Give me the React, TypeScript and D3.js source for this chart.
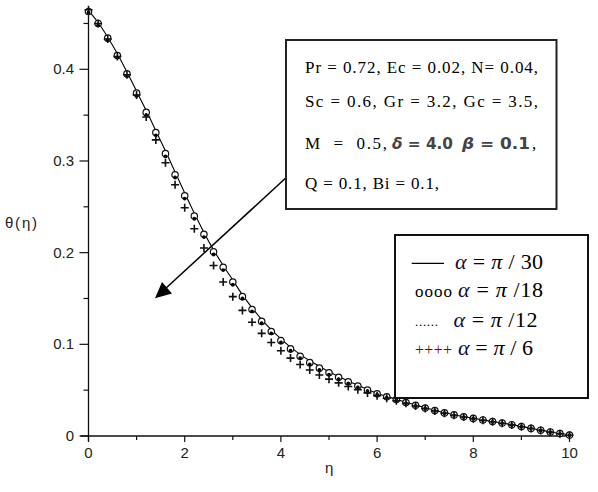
import React from "react";
import * as d3 from "d3";

const eta = [0, 0.2, 0.4, 0.6, 0.8, 1.0, 1.2, 1.4, 1.6, 1.8, 2.0, 2.2, 2.4, 2.6, 2.8, 3.0, 3.2, 3.4, 3.6, 3.8, 4.0, 4.2, 4.4, 4.6, 4.8, 5.0, 5.2, 5.4, 5.6, 5.8, 6.0, 6.2, 6.4, 6.6, 6.8, 7.0, 7.2, 7.4, 7.6, 7.8, 8.0, 8.2, 8.4, 8.6, 8.8, 9.0, 9.2, 9.4, 9.6, 9.8, 10.0];

// alpha = pi/30 (solid line)
const thetaPi30 = [0.464, 0.451, 0.435, 0.417, 0.397, 0.376, 0.355, 0.333, 0.311, 0.288, 0.265, 0.243, 0.222, 0.203, 0.186, 0.170, 0.154, 0.140, 0.127, 0.116, 0.106, 0.097, 0.089, 0.082, 0.076, 0.070, 0.065, 0.060, 0.0553, 0.0508, 0.0467, 0.0432, 0.0400, 0.0368, 0.0338, 0.0308, 0.0280, 0.0254, 0.0232, 0.0212, 0.0194, 0.0176, 0.0159, 0.0142, 0.0124, 0.0104, 0.0084, 0.0064, 0.0045, 0.0027, 0.0012];
// alpha = pi/18 (circles)
const thetaPi18 = [0.463, 0.450, 0.434, 0.415, 0.395, 0.374, 0.353, 0.331, 0.308, 0.285, 0.262, 0.240, 0.220, 0.201, 0.184, 0.168, 0.152, 0.138, 0.125, 0.114, 0.104, 0.095, 0.087, 0.080, 0.074, 0.069, 0.064, 0.059, 0.0545, 0.050, 0.046, 0.0428, 0.0398, 0.0365, 0.0335, 0.0305, 0.0278, 0.0252, 0.0230, 0.0210, 0.0192, 0.0175, 0.0158, 0.0141, 0.0123, 0.0103, 0.0083, 0.0063, 0.0044, 0.0026, 0.001];
// alpha = pi/12 (dots)
const thetaPi12 = [0.462, 0.448, 0.432, 0.413, 0.393, 0.371, 0.350, 0.328, 0.305, 0.282, 0.259, 0.237, 0.217, 0.198, 0.181, 0.165, 0.150, 0.136, 0.123, 0.112, 0.102, 0.093, 0.085, 0.078, 0.072, 0.067, 0.062, 0.0575, 0.053, 0.049, 0.045, 0.0418, 0.0388, 0.0358, 0.0328, 0.0300, 0.0273, 0.0248, 0.0226, 0.0206, 0.0188, 0.0171, 0.0154, 0.0138, 0.0120, 0.0101, 0.0081, 0.0061, 0.0042, 0.0024, 0.0009];
// alpha = pi/6 (plus)
const thetaPi6 = [0.465, 0.450, 0.433, 0.414, 0.394, 0.372, 0.348, 0.323, 0.298, 0.274, 0.249, 0.226, 0.205, 0.186, 0.168, 0.152, 0.137, 0.124, 0.112, 0.102, 0.093, 0.085, 0.078, 0.072, 0.0665, 0.062, 0.058, 0.054, 0.0505, 0.047, 0.044, 0.0412, 0.0385, 0.0356, 0.0328, 0.0300, 0.0274, 0.0249, 0.0227, 0.0207, 0.0189, 0.0172, 0.0155, 0.0139, 0.0121, 0.0101, 0.0081, 0.0061, 0.0042, 0.0024, 0.0008];

const xMajor = [0, 2, 4, 6, 8, 10];
const xMinor = [1, 3, 5, 7, 9];
const yMajor = [0, 0.1, 0.2, 0.3, 0.4];
const yMinor = [0.05, 0.15, 0.25, 0.35, 0.45];

const paramLines = [
  "Pr = 0.72, Ec = 0.02, N= 0.04,",
  "Sc = 0.6, Gr = 3.2, Gc = 3.5,",
  "M  =  0.5,",
  "Q = 0.1, Bi = 0.1,",
];

const legendDenoms = ["30", "18", "12", "6"];
const legendMarkers = ["oooo", "......", "++++"];

export default function App() {
  const x = d3.scaleLinear().domain([0, 10]).range([88.5, 569.5]);
  const y = d3.scaleLinear().domain([0, 0.46]).range([436, 14.3]);
  const line = d3
    .line<number>()
    .x((_, i) => x(eta[i]))
    .y((d) => y(d))
    .curve(d3.curveMonotoneX);

  const axisFont = "'Liberation Sans', Arial, sans-serif";
  const serif = "'Liberation Serif', 'Times New Roman', serif";

  const paramPos = [
    { y: 73, len: 233 },
    { y: 107, len: 233 },
    { y: 149, len: 82 },
    { y: 189, len: 134 },
  ];
  const legendText = [
    { x: 455, y: 269, len: 88 },
    { x: 458, y: 297, len: 85 },
    { x: 453.5, y: 326.5, len: 84 },
    { x: 458, y: 355, len: 75 },
  ];

  return (
    <svg
      width={598}
      height={492}
      style={{ position: "absolute", left: 0, top: 0, background: "#fff" }}
    >
      <rect x={0} y={0} width={598} height={492} fill="#fff" />
      {/* axes */}
      <line x1={x(0)} x2={x(0)} y1={y(0.46)} y2={y(0) + 5} stroke="#111" strokeWidth={1.3} />
      <line x1={x(0) - 8} x2={x(10)} y1={y(0)} y2={y(0)} stroke="#111" strokeWidth={1.3} />
      {xMajor.map((v) => (
        <g key={"xm" + v}>
          <line x1={x(v)} x2={x(v)} y1={y(0)} y2={y(0) + 6} stroke="#111" strokeWidth={1.2} />
          <text x={x(v)} y={458} textAnchor="middle" fontFamily={axisFont} fontSize={15} fill="#222">
            {v}
          </text>
        </g>
      ))}
      {xMinor.map((v) => (
        <line key={"xn" + v} x1={x(v)} x2={x(v)} y1={y(0)} y2={y(0) + 4} stroke="#111" strokeWidth={1.2} />
      ))}
      {yMajor.map((v) => (
        <g key={"ym" + v}>
          <line x1={x(0) - 9} x2={x(0)} y1={y(v)} y2={y(v)} stroke="#111" strokeWidth={1.2} />
          <text x={74} y={y(v) + 5} textAnchor="end" fontFamily={axisFont} fontSize={15} fill="#222">
            {v === 0 ? "0" : v.toFixed(1)}
          </text>
        </g>
      ))}
      {yMinor.map((v) => (
        <line key={"yn" + v} x1={x(0) - 5} x2={x(0)} y1={y(v)} y2={y(v)} stroke="#111" strokeWidth={1.2} />
      ))}
      <text x={5} y={228} fontFamily={axisFont} fontSize={15} fill="#222" textLength={32} lengthAdjust="spacing">
        θ(η)
      </text>
      <text x={325} y={473} fontFamily={axisFont} fontSize={15} fill="#222">
        η
      </text>

      {/* series */}
      <path d={line(thetaPi30) || ""} fill="none" stroke="#000" strokeWidth={1.1} />
      {thetaPi18.map((d, i) => (
        <circle key={"c" + i} cx={x(eta[i])} cy={y(d)} r={3.2} fill="#fff" stroke="#111" strokeWidth={1.2} />
      ))}
      {thetaPi12.map((d, i) => (
        <circle key={"d" + i} cx={x(eta[i])} cy={y(d)} r={1.9} fill="#000" />
      ))}
      {thetaPi6.map((d, i) => {
        const cx = x(eta[i]);
        const cy = y(d);
        return (
          <path
            key={"p" + i}
            d={`M${cx - 4},${cy}H${cx + 4}M${cx},${cy - 4}V${cy + 4}`}
            stroke="#111"
            strokeWidth={1.6}
            fill="none"
          />
        );
      })}

      {/* arrow */}
      <line x1={286} y1={177.8} x2={165} y2={289} stroke="#000" strokeWidth={1.5} />
      <path d="M155,298.3 L162,282 L172,293.5 Z" fill="#000" />

      {/* parameter box */}
      <rect x={286} y={40} width={270.5} height={169} fill="#fff" stroke="#222" strokeWidth={2} />
      {paramLines.map((t, i) => (
        <text
          key={"pl" + i}
          x={305}
          y={paramPos[i].y}
          fontFamily={serif}
          fontSize={17}
          fill="#000"
          xmlSpace="preserve"
          textLength={paramPos[i].len}
          lengthAdjust="spacing"
        >
          {t}
        </text>
      ))}
      <text x={392} y={149} fontFamily="'DejaVu Sans', sans-serif" fontWeight="bold" fontSize={15} fill="#444" textLength={61} lengthAdjust="spacingAndGlyphs">
        <tspan fontStyle="italic">δ</tspan> = 4.0
      </text>
      <text x={462} y={149} fontFamily="'DejaVu Sans', sans-serif" fontWeight="bold" fontSize={15} fill="#444" textLength={68} lengthAdjust="spacingAndGlyphs">
        <tspan fontStyle="italic">β</tspan> = 0.1
      </text>
      <text x={532} y={149} fontFamily={serif} fontSize={17} fill="#000">
        ,
      </text>

      {/* legend */}
      <rect x={395} y={235} width={193} height={163} fill="#fff" stroke="#111" strokeWidth={2} />
      <line x1={411.7} x2={444} y1={263.3} y2={263.3} stroke="#000" strokeWidth={1.3} />
      <text x={415} y={297} fontFamily={serif} fontSize={17} fill="#000" textLength={37} lengthAdjust="spacing">
        {legendMarkers[0]}
      </text>
      <text x={415} y={326} fontFamily={serif} fontSize={13} fill="#000" textLength={23} lengthAdjust="spacing">
        {legendMarkers[1]}
      </text>
      <text x={415} y={355} fontFamily={serif} fontSize={16} fill="#800000" textLength={37} lengthAdjust="spacing">
        {legendMarkers[2]}
      </text>
      {legendDenoms.map((dn, i) => (
        <text
          key={"l" + i}
          x={legendText[i].x}
          y={legendText[i].y}
          fontFamily={serif}
          fontSize={22}
          fill="#000"
          xmlSpace="preserve"
          textLength={legendText[i].len}
          lengthAdjust="spacing"
        >
          <tspan fontStyle="italic" fill="#0a0a40">α</tspan>
          {" = "}
          <tspan fontStyle="italic">π</tspan>
          {i === 0 || i === 3 ? " / " + dn : " /" + dn}
        </text>
      ))}
    </svg>
  );
}
